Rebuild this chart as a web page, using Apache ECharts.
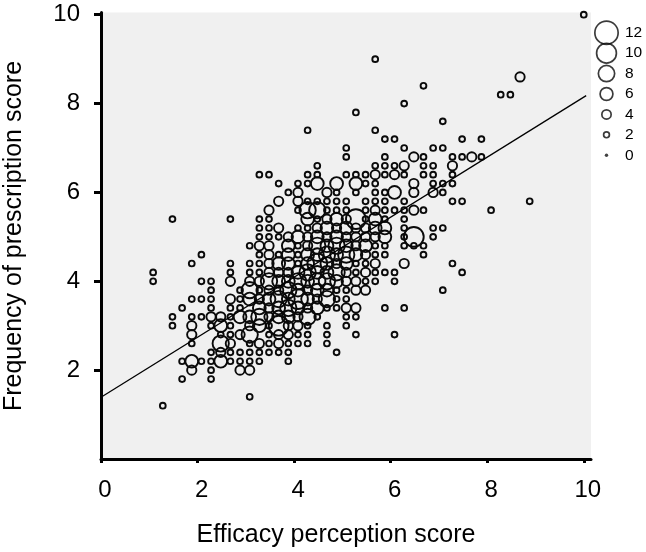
<!DOCTYPE html>
<html><head><meta charset="utf-8">
<script src="https://cdn.jsdelivr.net/npm/echarts@6/dist/echarts.min.js"></script>
<style>html,body{margin:0;padding:0;background:#fff}#c{width:646px;height:552px}</style>
</head><body><div id="c"></div>
<script>
// Tick values
const xTicks = [0, 2, 4, 6, 8, 10];
const yTicks = [2, 4, 6, 8, 10];
// Bubble-size legend (number of respondents)
const legendCounts = ['12', '10', '8', '6', '4', '2', '0'];
// Fitted regression line endpoints
const fitLine = [[0, 1.39], [10.05, 8.18]];
// Bubbles per efficacy column: [efficacy, [[prescription, respondents], ...]]
const bubbleColumns = [
  [1.08, [[4.2,2],[4.0,2]]],
  [1.28, [[1.2,2]]],
  [1.48, [[5.4,2],[3.2,2],[3.0,2]]],
  [1.68, [[3.4,2],[2.2,2],[1.8,2]]],
  [1.88, [[4.4,2],[3.6,2],[3.2,2],[3.0,4],[2.8,4],[2.6,2],[2.2,6],[2.0,4]]],
  [2.08, [[4.6,2],[4.0,2],[3.6,2],[3.2,2],[2.2,2]]],
  [2.28, [[4.0,2],[3.8,2],[3.6,2],[3.4,2],[3.2,4],[3.0,2],[2.4,2],[2.2,2],[2.0,2],[1.8,2]]],
  [2.48, [[3.2,4],[3.0,6],[2.8,2],[2.6,8],[2.4,4],[2.2,6]]],
  [2.68, [[5.4,2],[4.4,2],[4.2,2],[4.0,4],[3.6,4],[3.4,2],[3.2,2],[3.0,2],[2.8,2],[2.6,4],[2.4,2],[2.2,2]]],
  [2.88, [[3.8,2],[3.6,2],[3.4,2],[3.2,6],[2.8,4],[2.4,2],[2.2,2],[2.0,4]]],
  [3.08, [[4.8,2],[4.4,2],[4.2,2],[4.0,4],[3.8,8],[3.6,6],[3.2,6],[3.0,4],[2.8,8],[2.6,2],[2.4,2],[2.2,2],[2.0,4],[1.4,2]]],
  [3.28, [[6.4,2],[5.4,2],[5.2,2],[5.0,2],[4.8,4],[4.6,2],[4.4,2],[4.2,2],[4.0,4],[3.8,2],[3.6,4],[3.4,6],[3.2,8],[3.0,6],[2.6,4],[2.4,2],[2.2,2]]],
  [3.48, [[6.4,2],[5.6,4],[5.4,2],[5.2,2],[5.0,2],[4.8,4],[4.6,4],[4.4,4],[4.2,4],[4.0,8],[3.8,4],[3.6,6],[3.4,4],[3.2,4],[3.0,2],[2.8,2],[2.6,2],[2.4,2]]],
  [3.68, [[6.2,2],[5.8,4],[5.2,4],[5.0,2],[4.6,2],[4.4,6],[4.2,4],[4.0,6],[3.8,4],[3.6,8],[3.4,6],[3.2,6],[3.0,10],[2.8,4],[2.6,4],[2.4,2]]],
  [3.88, [[6.0,2],[5.0,4],[4.8,6],[4.6,6],[4.4,6],[4.2,4],[4.0,6],[3.8,8],[3.6,6],[3.4,8],[3.2,6],[3.0,4],[2.8,4],[2.6,2],[2.4,2],[2.2,2]]],
  [4.08, [[6.2,2],[6.0,4],[5.8,4],[5.6,2],[5.2,2],[5.0,6],[4.8,2],[4.6,2],[4.4,2],[4.2,6],[4.0,8],[3.8,6],[3.6,10],[3.4,6],[3.2,4],[3.0,4],[2.8,2],[2.6,2]]],
  [4.28, [[7.4,2],[6.4,2],[6.2,2],[5.8,2],[5.6,8],[5.4,6],[5.2,2],[5.0,4],[4.8,4],[4.6,6],[4.4,6],[4.2,8],[4.0,6],[3.8,4],[3.6,6],[3.4,4],[3.2,8],[3.0,2],[2.8,2],[2.6,2]]],
  [4.48, [[6.6,2],[6.4,2],[6.2,6],[5.8,2],[5.6,8],[5.4,2],[5.2,4],[5.0,6],[4.8,8],[4.6,6],[4.4,10],[4.2,6],[4.0,8],[3.8,6],[3.6,4],[3.4,6],[3.2,2]]],
  [4.68, [[6.0,4],[5.8,2],[5.6,2],[5.4,4],[5.2,6],[5.0,4],[4.8,6],[4.6,8],[4.4,6],[4.2,6],[4.0,8],[3.8,6],[3.6,8],[3.4,2],[3.0,2],[2.8,2],[2.6,2]]],
  [4.88, [[6.2,6],[6.0,2],[5.8,2],[5.6,2],[5.4,6],[5.2,4],[5.0,6],[4.8,8],[4.6,6],[4.4,4],[4.2,8],[4.0,6],[3.8,2],[3.6,2],[3.4,2],[2.4,2]]],
  [5.08, [[7.0,2],[6.8,2],[6.4,2],[5.8,2],[5.6,2],[5.4,4],[5.2,6],[5.0,4],[4.8,6],[4.6,8],[4.4,6],[4.2,4],[4.0,4],[3.8,2],[3.6,2],[3.4,4],[3.2,2],[3.0,2]]],
  [5.28, [[7.8,2],[6.4,2],[6.2,6],[6.0,2],[5.4,10],[5.2,4],[5.0,4],[4.8,4],[4.6,6],[4.4,2],[4.2,2],[4.0,4],[3.8,4],[3.4,4],[3.2,2],[2.8,2]]],
  [5.48, [[6.4,2],[6.2,2],[5.8,2],[5.6,2],[5.4,2],[5.2,4],[5.0,4],[4.8,6],[4.6,4],[4.4,2],[4.2,4],[4.0,2],[3.8,4]]],
  [5.68, [[9.0,2],[7.4,2],[6.6,2],[6.4,4],[6.2,2],[6.0,2],[5.8,2],[5.6,4],[5.4,6],[5.2,6],[5.0,4],[4.8,2],[4.6,2],[4.4,4],[4.2,2],[4.0,2]]],
  [5.88, [[7.2,2],[6.8,2],[6.6,2],[6.4,2],[6.0,2],[5.8,2],[5.6,2],[5.4,2],[5.2,6],[5.0,6],[4.8,2],[4.6,2],[4.2,2],[3.4,2]]],
  [6.08, [[7.2,2],[6.6,2],[6.4,4],[6.0,6],[5.6,2],[4.2,2],[4.0,2],[2.8,2]]],
  [6.28, [[8.0,2],[7.0,2],[6.6,4],[6.4,2],[5.8,2],[5.6,2],[5.4,2],[5.2,2],[5.0,2],[4.8,2],[4.4,4],[3.4,2]]],
  [6.48, [[6.8,4],[6.2,4],[6.0,4],[5.6,4],[5.0,10],[4.8,2]]],
  [6.68, [[8.4,2],[6.8,2],[6.6,2],[6.4,2],[5.6,2],[4.8,2],[4.6,2]]],
  [6.88, [[7.0,2],[6.6,2],[6.4,2],[6.2,2],[6.0,4],[5.2,2],[5.0,2]]],
  [7.08, [[7.6,2],[7.0,2],[6.2,2],[6.0,2],[5.2,2],[3.8,2]]],
  [7.28, [[6.8,2],[6.6,4],[6.4,2],[6.2,2],[5.8,2],[4.4,2]]],
  [7.48, [[7.2,2],[6.8,2],[5.8,2],[4.2,2]]],
  [7.68, [[6.8,4]]],
  [7.88, [[7.2,2],[6.8,2]]],
  [8.08, [[5.6,2]]],
  [8.28, [[8.2,2]]],
  [8.48, [[8.2,2]]],
  [8.68, [[8.6,4]]],
  [8.88, [[5.8,2]]],
  [10.0, [[10.0,2]]]
];

const bubbles = [];
bubbleColumns.forEach(function (col) {
  col[1].forEach(function (p) { bubbles.push([col[0], p[0], p[1]]); });
});
function bubbleSize(n) { return n === 0 ? 3.4 : 2.3 + 1.75 * n; }

const font = '"Liberation Sans", Arial, sans-serif';
const chart = echarts.init(document.getElementById('c'), null, { renderer: 'canvas' });
chart.setOption({
  animation: false,
  grid: [
    { left: 101, top: 12.5, width: 490, height: 446.5, show: true, backgroundColor: '#f0f0f0', borderWidth: 0 },
    { left: 594, top: 22.5, width: 25, height: 143 }
  ],
  xAxis: [
    { gridIndex: 0, type: 'value', min: 0, max: 10.15,
      axisLine: { show: true, onZero: false, lineStyle: { color: '#000', width: 3 } },
      axisTick: { show: true, length: 4, customValues: xTicks, lineStyle: { color: '#000', width: 3 } },
      axisLabel: { customValues: xTicks, fontSize: 24, color: '#000', fontFamily: font, margin: 19, padding: [0, 0, 0, 8] },
      splitLine: { show: false } },
    { gridIndex: 1, type: 'value', min: 0, max: 1, show: false }
  ],
  yAxis: [
    { gridIndex: 0, type: 'value', min: 0, max: 10.05,
      axisLine: { show: true, onZero: false, lineStyle: { color: '#000', width: 3 } },
      axisTick: { show: true, length: 7, customValues: yTicks, lineStyle: { color: '#000', width: 3 } },
      axisLabel: { customValues: yTicks, fontSize: 24, color: '#000', fontFamily: font, margin: 21 },
      splitLine: { show: false } },
    { gridIndex: 1, type: 'category', data: legendCounts, inverse: true, position: 'right',
      axisLine: { show: false }, axisTick: { show: false }, splitLine: { show: false },
      axisLabel: { interval: 0, hideOverlap: false, margin: 6, fontSize: 15.5, color: '#000', fontFamily: '"Liberation Sans Narrow", "Liberation Sans", sans-serif' } }
  ],
  series: [
    { type: 'scatter', xAxisIndex: 0, yAxisIndex: 0, data: bubbles, silent: true,
      symbol: 'circle', symbolSize: function (v) { return bubbleSize(v[2]); },
      itemStyle: { color: 'rgba(0,0,0,0)', borderColor: '#0a0a0a', borderWidth: 1.9, opacity: 1 } },
    { type: 'line', xAxisIndex: 0, yAxisIndex: 0, data: fitLine, symbol: 'none', silent: true,
      lineStyle: { color: '#000', width: 1.3 } },
    { type: 'scatter', xAxisIndex: 1, yAxisIndex: 1, silent: true, symbol: 'circle',
      data: legendCounts.map(function (c) {
        const n = Number(c);
        return n === 0
          ? { value: [0.5, c, n], itemStyle: { color: '#111', borderWidth: 0 } }
          : { value: [0.5, c, n] };
      }),
      symbolSize: function (v) { return bubbleSize(v[2]); },
      itemStyle: { color: 'rgba(0,0,0,0)', borderColor: '#0a0a0a', borderWidth: 1.7 } }
  ],
  graphic: [
    { type: 'text', x: 336, y: 535, silent: true,
      style: { text: 'Efficacy perception score', fontSize: 25, fontFamily: font, fill: '#000', align: 'center', verticalAlign: 'middle' } },
    { type: 'text', x: 14, y: 236, rotation: Math.PI / 2, silent: true,
      style: { text: 'Frequency of prescription score', fontSize: 25, fontFamily: font, fill: '#000', align: 'center', verticalAlign: 'middle' } }
  ]
});
</script>
</body></html>
